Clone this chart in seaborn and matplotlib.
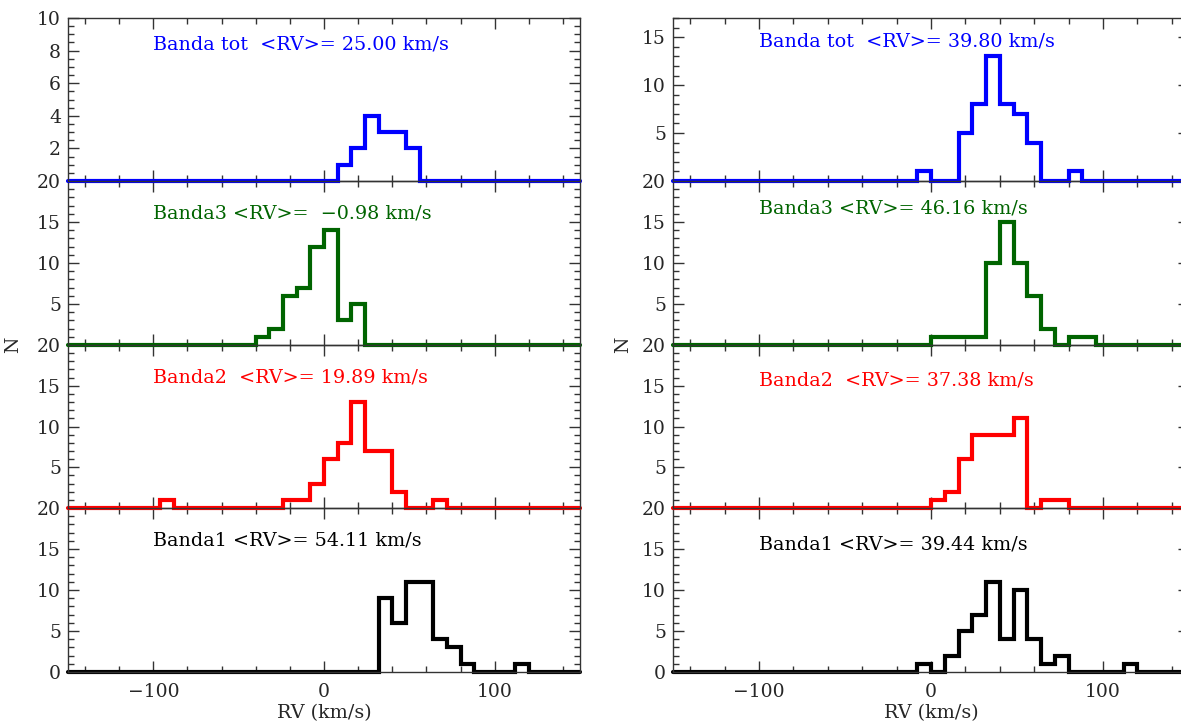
import numpy as np
import pandas as pd
import matplotlib
matplotlib.use("Agg")
import matplotlib.pyplot as plt
from matplotlib.ticker import MultipleLocator, FuncFormatter
import seaborn as sns

# ---------------- data (left bin edge of non-empty bins, counts) ----------------
BIN_WIDTH = 8
XMIN, XMAX = -150, 150

# left column
L_TOT_EDGES = [8, 16, 24, 32, 40, 48]
L_TOT_N = [1, 2, 4, 3, 3, 2]
L_B3_EDGES = [-40, -32, -24, -16, -8, 0, 8, 16]
L_B3_N = [1, 2, 6, 7, 12, 14, 3, 5]
L_B2_EDGES = [-96, -24, -16, -8, 0, 8, 16, 24, 32, 40, 64]
L_B2_N = [1, 1, 1, 3, 6, 8, 13, 7, 7, 2, 1]
L_B1_EDGES = [32, 40, 48, 56, 64, 72, 80, 112]
L_B1_N = [9, 6, 11, 11, 4, 3, 1, 1]

# right column
R_TOT_EDGES = [-8, 16, 24, 32, 40, 48, 56, 80]
R_TOT_N = [1, 5, 8, 13, 8, 7, 4, 1]
R_B3_EDGES = [0, 8, 16, 24, 32, 40, 48, 56, 64, 80, 88]
R_B3_N = [1, 1, 1, 1, 10, 15, 10, 6, 2, 1, 1]
R_B2_EDGES = [0, 8, 16, 24, 32, 40, 48, 64, 72]
R_B2_N = [1, 2, 6, 9, 9, 9, 11, 1, 1]
R_B1_EDGES = [-8, 8, 16, 24, 32, 40, 48, 56, 64, 72, 112]
R_B1_N = [1, 2, 5, 7, 11, 4, 10, 4, 1, 2, 1]

LEFT_LABELS = ["Banda tot  <RV>= 25.00 km/s", "Banda3 <RV>=  \u22120.98 km/s",
               "Banda2  <RV>= 19.89 km/s", "Banda1 <RV>= 54.11 km/s"]
RIGHT_LABELS = ["Banda tot  <RV>= 39.80 km/s", "Banda3 <RV>= 46.16 km/s",
                "Banda2  <RV>= 37.38 km/s", "Banda1 <RV>= 39.44 km/s"]
COLORS = ["#0000ff", "#006400", "#ff0000", "#000000"]
X_LABEL = "RV (km/s)"
Y_LABEL = "N"

# ---------------- style ----------------
sns.set_style("ticks")
plt.rcParams["font.family"] = ["DejaVu Serif", "DejaVu Sans"]
plt.rcParams["axes.unicode_minus"] = True

fig = plt.figure(figsize=(11.81, 7.27), dpi=100)
W, H = 1181.0, 727.0

bounds = [18, 181, 345, 508, 672]  # px from top
cols = [(68, 580), (673, 1189)]

bins = [float(b) for b in np.clip(np.arange(-152, 153, BIN_WIDTH), XMIN, XMAX)]

left_data = [(L_TOT_EDGES, L_TOT_N), (L_B3_EDGES, L_B3_N), (L_B2_EDGES, L_B2_N), (L_B1_EDGES, L_B1_N)]
right_data = [(R_TOT_EDGES, R_TOT_N), (R_B3_EDGES, R_B3_N), (R_B2_EDGES, R_B2_N), (R_B1_EDGES, R_B1_N)]

left_ylims = [(0, 10), (0, 20), (0, 20), (0, 20)]
right_ylims = [(0, 17), (0, 20), (0, 20), (0, 20)]
left_text_y = [8.4, 16.0, 16.0, 16.0]
right_text_y = [14.6, 16.7, 15.7, 15.6]

FRAME = "#333333"
FS_TICK = 13.5
FS_TEXT = 13.8


def hide_zero(v, pos):
    if abs(v) < 1e-9:
        return ""
    return f"{v:g}"


for ci, (data, labels, ylims, text_y) in enumerate(
        [(left_data, LEFT_LABELS, left_ylims, left_text_y),
         (right_data, RIGHT_LABELS, right_ylims, right_text_y)]):
    x0, x1 = cols[ci]
    for i in range(4):
        top, bot = bounds[i], bounds[i + 1]
        ax = fig.add_axes([x0 / W, 1 - bot / H, (x1 - x0) / W, (bot - top) / H])
        ax.set_zorder(10 - i)
        ax.patch.set_alpha(0)
        edges, counts = data[i]
        df = pd.DataFrame({"rv": np.array(edges) + BIN_WIDTH / 2, "n": counts})
        sns.histplot(data=df, x="rv", weights="n", bins=bins, element="step",
                     fill=False, color=COLORS[i], linewidth=3.0, ax=ax)
        for ln in ax.lines:
            ln.set_clip_on(False)
            ln.set_solid_joinstyle("miter")
        ax.set_xlim(XMIN, XMAX)
        ax.set_ylim(*ylims[i])
        ax.set_ylabel("")
        ax.set_xlabel("")
        ax.xaxis.set_major_locator(MultipleLocator(100))
        ax.xaxis.set_minor_locator(MultipleLocator(20))
        if ylims[i][1] == 10:
            ax.yaxis.set_major_locator(MultipleLocator(2))
            ax.yaxis.set_minor_locator(MultipleLocator(0.5))
        else:
            ax.yaxis.set_major_locator(MultipleLocator(5))
            ax.yaxis.set_minor_locator(MultipleLocator(1))
        if i < 3:
            # the "0" of this panel coincides with the "20" of the panel below
            ax.yaxis.set_major_formatter(FuncFormatter(hide_zero))
        ax.tick_params(which="both", direction="in", top=True, right=True,
                       color=FRAME, width=1.0, labelsize=FS_TICK)
        ax.tick_params(which="major", length=8)
        ax.tick_params(which="minor", length=4)
        ax.tick_params(axis="y", pad=5)
        ax.tick_params(axis="x", pad=8)
        for sp in ax.spines.values():
            sp.set_color(FRAME)
            sp.set_linewidth(1.0)
        if i < 3:
            ax.tick_params(axis="x", labelbottom=False)
        else:
            ax.set_xlabel(X_LABEL, fontsize=FS_TEXT, labelpad=2)
        ax.text(-100, text_y[i], labels[i], color=COLORS[i], fontsize=FS_TEXT,
                ha="left", va="center")

fig.text(13 / W, 1 - 345 / H, Y_LABEL, rotation=90, fontsize=FS_TICK, ha="center", va="center")
fig.text(623 / W, 1 - 345 / H, Y_LABEL, rotation=90, fontsize=FS_TICK, ha="center", va="center")

fig.savefig("out.png", dpi=100)
